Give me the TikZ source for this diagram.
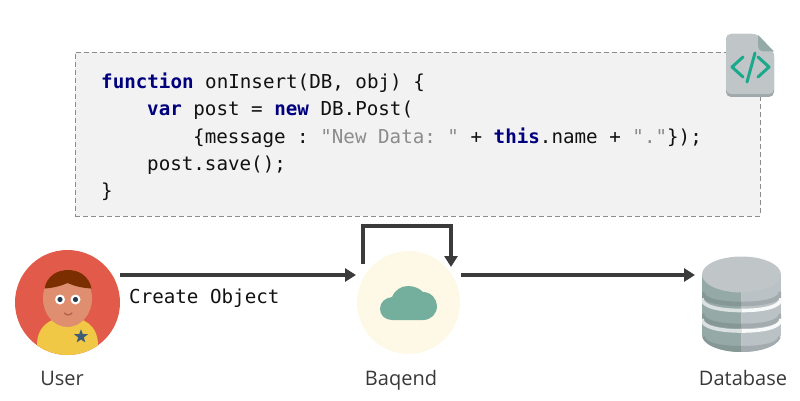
\documentclass[tikz,border=0pt]{standalone}
\usepackage{fontspec}
\setmainfont{Open Sans}
\setmonofont{DejaVu Sans Mono}
\usepackage{xcolor}
\usetikzlibrary{positioning,shapes.geometric,arrows.meta}
\definecolor{codekw}{HTML}{00007F}
\definecolor{codestr}{HTML}{8C8C8C}
\definecolor{codeink}{HTML}{111111}
\definecolor{boxfill}{HTML}{F2F2F2}
\definecolor{boxedge}{HTML}{8C8C8C}
\definecolor{conncol}{HTML}{3B3B3B}
\definecolor{dbtop}{HTML}{C0C5C8}
\definecolor{dbleft}{HTML}{95A9A6}
\definecolor{dbright}{HTML}{BAC2C6}
\definecolor{iconbase}{HTML}{9FA8AC}
\definecolor{iconteal}{HTML}{1AA98A}
\definecolor{userred}{HTML}{E25B4A}
\definecolor{shirt}{HTML}{F0C846}
\definecolor{skin}{HTML}{DF8F70}
\definecolor{hair}{HTML}{7B2E00}
\definecolor{pupil}{HTML}{283C50}
\definecolor{mouth}{HTML}{B0644B}
\definecolor{badgeblue}{HTML}{3E5C76}
\definecolor{baqcream}{HTML}{FDF9E6}
\definecolor{cloudgreen}{HTML}{74AF9E}
\newcommand{\kw}[1]{\textcolor{codekw}{\textbf{#1}}}
\newcommand{\str}[1]{\textcolor{codestr}{#1}}
\newcommand{\dbband}[4]{\draw[#1,line width=#2pt] (702,#3) .. controls (702,#3+8.3) and (719.7,#4) .. (741.5,#4) .. controls (763.3,#4) and (781,#3+8.3) .. (781,#3);}

\begin{document}
\begin{tikzpicture}[x=1pt,y=-1pt,
		codeline/.style={anchor=base west,inner sep=0pt,text=codeink,font=\ttfamily\fontsize{19.2}{27}\selectfont},
		caption/.style={inner sep=0pt,text=black!78,font=\fontsize{20}{24}\selectfont},
		actor/.style={circle,inner sep=0pt,minimum size=#1},
		connline/.style={draw=conncol,line width=3.4pt},
		connarrow/.style={connline,-{Triangle[length=11pt,width=13pt]}}]
		\useasboundingbox (0,0) rectangle (800,401);
		
		\node[draw=boxedge,fill=boxfill,dash pattern=on 5pt off 3pt,line width=0.9pt,rectangle,minimum width=685pt,minimum height=164pt,inner sep=0pt] (codebox) at (417.5,134) {};
		
		\node[codeline] (l1) at (101,89) {\kw{function} onInsert(DB, obj) \{};
		\node[codeline] (l2) at (147,116) {\kw{var} post = \kw{new} DB.Post(};
		\node[codeline] (l3) at (193,143) {\{message : \str{"New Data: "} + \kw{this}.name + \str{"."}\});};
		\node[codeline] (l4) at (147,170) {post.save();};
		\node[codeline] (l5) at (101,197) {\}};
		
		% file icon
		\fill[fill=iconbase,rounded corners=5pt] (726,34) -- (757,34) -- (774,52) -- (774,97) -- (726,97) -- cycle;
		\fill[fill=dbtop,rounded corners=5pt] (726,34) -- (757,34) -- (774,52) -- (774,94) -- (726,94) -- cycle;
		\fill[fill=dbleft] (758,35) -- (774,51.5) -- (764,51.5) .. controls (760,51.5) and (758,49) .. (758,45) -- cycle;
		\draw[iconteal,line width=3pt,line cap=round,line join=round] (743,57) -- (732,67) -- (743,77);
		\draw[iconteal,line width=3pt,line cap=round,line join=round] (758,57) -- (769,67) -- (758,77);
		\draw[iconteal,line width=3pt,line cap=round] (755,53) -- (747,82);
		
		% user
		\node[actor=105pt,fill=userred] (user) at (67.5,302.5) {};
		\begin{scope}
			\clip (user.center) circle (52.5);
			\fill[fill=shirt] (37,360) -- (37,345) .. controls (37,325) and (52,317) .. (67.5,317) .. controls (83,317) and (98,325) .. (98,345) -- (98,360) -- cycle;
		\end{scope}
		\fill[fill=skin] (67.5,298.5) ellipse [x radius=24.5,y radius=28.5];
		\fill[fill=hair] (44.5,288.5) .. controls (47,276) and (57,270) .. (68,270) .. controls (79,270) and (89,276) .. (91.5,288.5) .. controls (82,288) and (74,286) .. (67.5,283) .. controls (61,286) and (53,288) .. (44.5,288.5) -- cycle;
		\foreach \ex in {60,75.5} {
			\fill[white] (\ex,299.5) circle (5);
			\fill[fill=pupil] (\ex,299.5) circle (2.6);
		}
		\draw[mouth,line width=1.4pt,line cap=round] (64.5,313) .. controls (66,315.5) and (70,315.5) .. (72,313);
		\node[star,star points=5,star point ratio=2.4,fill=badgeblue,inner sep=0pt,minimum size=14.5pt] (badge) at (81,336.5) {};
		\node[caption] (userlabel) at (62,378) {User};
		
		% backend
		\node[actor=103pt,fill=baqcream] (baq) at (408.5,302.5) {};
		\fill[fill=cloudgreen] (392,320) .. controls (385,320) and (380,315) .. (380,309) .. controls (380,302) and (385,298) .. (392,297) .. controls (395,290) and (401,286) .. (408,286) .. controls (415,286) and (420,289) .. (423,292) .. controls (431,292) and (437,299) .. (437,306) .. controls (437,314) and (431,320) .. (423,320) -- cycle;
		\node[caption] (baqlabel) at (401,380) {Baqend};
		
		% database
		\begin{scope}
			\clip (702,274) -- (702,335) .. controls (702,344.4) and (719.7,352) .. (741.5,352) .. controls (763.3,352) and (781,344.4) .. (781,335) -- (781,274) -- cycle;
			\foreach \xa/\xb/\cbody/\cdark/\clight in {702/741.5/dbleft/dbleft!90!black/dbleft!35!white,741.5/781/dbright/dbright!88!black/white!90!dbright} {
				\begin{scope}
					\clip (\xa,256) rectangle (\xb,352);
					\fill[\cbody] (\xa,256) rectangle (\xb,352);
					\dbband{\cdark}{4.5}{292}{304}
					\dbband{\clight}{3.6}{298.5}{310.5}
					\dbband{\cdark}{4.5}{314}{326}
					\dbband{\clight}{3.6}{319}{331}
					\dbband{\cdark}{6}{337}{349}
				\end{scope}
			}
		\end{scope}
		\node[ellipse,fill=dbtop,inner sep=0pt,minimum width=79pt,minimum height=36pt] (db) at (741.5,274.5) {};
		\node[caption] (dblabel) at (743,378) {Database};
		
		\coordinate (userout) at (120,275);
		\coordinate (baqin) at (356,275);
		\coordinate (loopout) at (363,264);
		\coordinate (looptop) at (363,226);
		\coordinate (loopend) at (451,267);
		\coordinate (baqout) at (461,275);
		\coordinate (dbin) at (695,275);
		
		\draw[connarrow] (userout) -- (baqin);
		\draw[connarrow] (baqout) -- (dbin);
		\draw[connarrow] (loopout) -- (looptop) -| (loopend);
		
		\node[codeline] (create) at (129,303) {Create Object};
	\end{tikzpicture}
\end{document}
